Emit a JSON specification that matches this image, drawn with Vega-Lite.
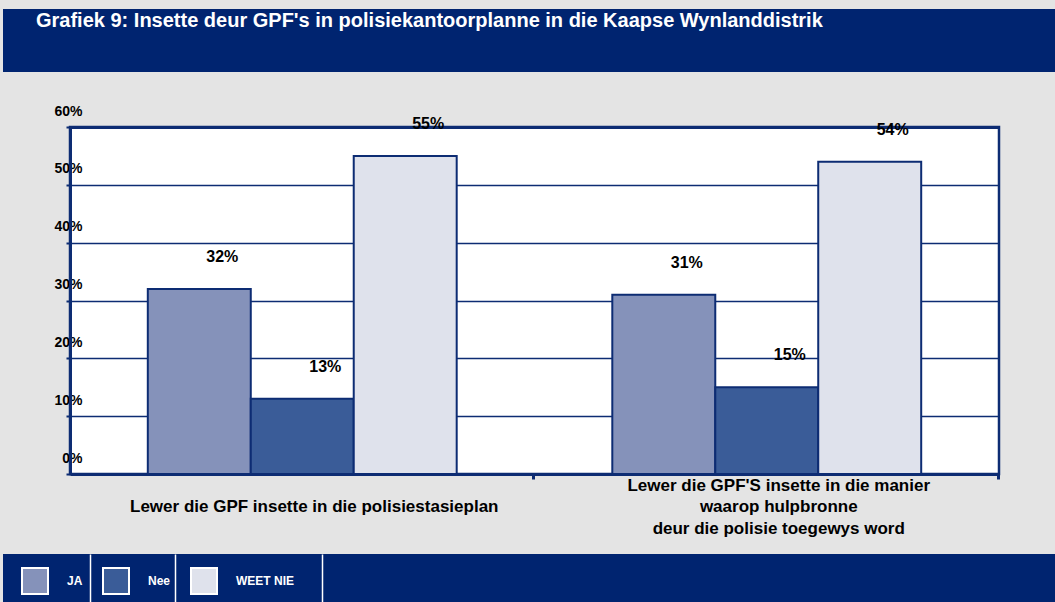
{
  "$schema": "https://vega.github.io/schema/vega-lite/v6.json",
  "background": "#E4E4E4",
  "padding": {"left": 3, "top": 9, "right": 0, "bottom": 0},
  "spacing": 0,
  "config": {"font": "Liberation Sans"},
  "resolve": {"scale": {"color": "shared"}, "legend": {"color": "shared"}},
  "vconcat": [
    {
      "width": 1052,
      "height": 63,
      "view": {"fill": "#002470", "stroke": null},
      "data": {"values": []},
      "mark": "point",
      "title": {
        "text": "Grafiek 9: Insette deur GPF's in polisiekantoorplanne in die Kaapse Wynlanddistrik",
        "anchor": "start",
        "orient": "top",
        "color": "white",
        "font": "Liberation Sans",
        "fontWeight": "bold",
        "fontSize": 20,
        "baseline": "middle",
        "offset": 0,
        "dx": 33,
        "dy": 32
      }
    },
    {
      "spacing": 0,
      "resolve": {"scale": {"color": "shared"}, "legend": {"color": "shared"}},
      "hconcat": [
        {
          "width": 1,
          "height": 347,
          "view": {"fill": null, "stroke": null},
          "data": {"values": []},
          "mark": "point"
        },
        {
          "width": 929,
          "height": 347,
          "view": {"fill": "white", "stroke": "#0D2C73", "strokeWidth": 2.5},
          "data": {
            "values": [
              {"groep": "|Lewer die GPF insette in die polisiestasieplan|", "antwoord": "JA", "waarde": 0.32},
              {"groep": "|Lewer die GPF insette in die polisiestasieplan|", "antwoord": "Nee", "waarde": 0.13},
              {"groep": "|Lewer die GPF insette in die polisiestasieplan|", "antwoord": "WEET NIE", "waarde": 0.55},
              {"groep": "Lewer die GPF'S insette in die manier|waarop hulpbronne|deur die polisie toegewys word", "antwoord": "JA", "waarde": 0.31},
              {"groep": "Lewer die GPF'S insette in die manier|waarop hulpbronne|deur die polisie toegewys word", "antwoord": "Nee", "waarde": 0.15},
              {"groep": "Lewer die GPF'S insette in die manier|waarop hulpbronne|deur die polisie toegewys word", "antwoord": "WEET NIE", "waarde": 0.54}
            ]
          },
          "layer": [
            {
              "mark": {"type": "bar", "stroke": "#0D2C73", "strokeWidth": 2},
              "encoding": {
                "x": {
                  "field": "groep", "type": "nominal", "sort": null,
                  "scale": {"paddingInner": 0.335, "paddingOuter": 0.1675},
                  "axis": {
                    "orient": "bottom",
                    "title": null,
                    "labelExpr": "split(datum.label, '|')",
                    "labelFont": "Liberation Sans",
                    "labelFontWeight": "bold",
                    "labelFontSize": 17,
                    "labelColor": "black",
                    "labelAngle": 0,
                    "labelAlign": "center",
                    "labelBaseline": "middle",
                    "labelLineHeight": 21.5,
                    "labelPadding": 6,
                    "labelLimit": 0,
                    "labelOffset": 12,
                    "ticks": true,
                    "tickSize": 5,
                    "tickColor": "#0D2C73",
                    "tickWidth": 3,
                    "bandPosition": 1.25,
                    "domainColor": "#0D2C73",
                    "domainWidth": 3,
                    "grid": false,
                    "minExtent": 78,
                    "maxExtent": 78
                  }
                },
                "xOffset": {
                  "field": "antwoord", "type": "nominal", "sort": ["JA", "Nee", "WEET NIE"],
                  "scale": {"paddingInner": 0, "paddingOuter": 0}
                },
                "y": {
                  "field": "waarde", "type": "quantitative",
                  "scale": {"domain": [0, 0.6], "nice": false},
                  "axis": {
                    "title": null,
                    "values": [0, 0.1, 0.2, 0.3, 0.4, 0.5, 0.6],
                    "format": ".0%",
                    "labelFont": "Liberation Sans",
                    "labelFontWeight": "bold",
                    "labelFontSize": 14,
                    "labelColor": "black",
                    "labelAlign": "right",
                    "labelBaseline": "middle",
                    "labelOffset": -16,
                    "labelPadding": -16,
                    "labelOverlap": false,
                    "tickSize": 4,
                    "tickColor": "#0D2C73",
                    "tickWidth": 2,
                    "domainColor": "#0D2C73",
                    "domainWidth": 3,
                    "grid": true,
                    "gridColor": "#0D2C73",
                    "gridWidth": 1.5,
                    "minExtent": 64,
                    "maxExtent": 64
                  }
                },
                "color": {
                  "field": "antwoord", "type": "nominal",
                  "sort": ["JA", "Nee", "WEET NIE"],
                  "scale": {"domain": ["JA", "Nee", "WEET NIE"], "range": ["#8592BA", "#3A5C98", "#DFE2EC"]},
                  "legend": {
                    "orient": "none",
                    "legendX": 18,
                    "legendY": 558,
                    "direction": "horizontal",
                    "title": null,
                    "padding": 0,
                    "symbolType": "square",
                    "symbolSize": 676,
                    "symbolStrokeColor": "white",
                    "symbolStrokeWidth": 2,
                    "symbolOpacity": 1,
                    "labelColor": "white",
                    "labelFont": "Liberation Sans",
                    "labelFontWeight": "bold",
                    "labelFontSize": 12,
                    "labelOffset": 18,
                    "columnPadding": 16,
                    "encode": {"symbols": {"update": {"stroke": {"value": "white"}, "strokeWidth": {"value": 2}}}}
                  }
                }
              }
            },
            {
              "mark": {"type": "text", "dx": 23, "dy": -32, "baseline": "middle", "align": "center", "font": "Liberation Sans", "fontWeight": "bold", "fontSize": 16, "color": "black"},
              "encoding": {
                "x": {
                  "field": "groep", "type": "nominal", "sort": null,
                  "axis": {
                    "orient": "top",
                    "title": null,
                    "labels": false,
                    "ticks": false,
                    "grid": false,
                    "domain": true,
                    "domainColor": "#0D2C73",
                    "domainWidth": 3,
                    "minExtent": 53,
                    "maxExtent": 53
                  }
                },
                "xOffset": {"field": "antwoord", "type": "nominal", "sort": ["JA", "Nee", "WEET NIE"]},
                "y": {"field": "waarde", "type": "quantitative"},
                "text": {"field": "waarde", "type": "quantitative", "format": ".0%"}
              }
            }
          ],
          "resolve": {"axis": {"x": "independent"}}
        }
      ]
    },
    {
      "width": 1052,
      "height": 50,
      "view": {"fill": "#002470", "stroke": null},
      "data": {"values": []},
      "mark": "point",
      "encoding": {
        "x": {
          "field": "grens", "type": "quantitative",
          "scale": {"domain": [0, 1052], "nice": false, "zero": false},
          "axis": {
            "title": null,
            "values": [87, 172, 319],
            "labels": false,
            "ticks": false,
            "domain": false,
            "grid": true,
            "gridColor": "white",
            "gridWidth": 1.5,
            "gridOpacity": 1
          }
        }
      }
    }
  ]
}
